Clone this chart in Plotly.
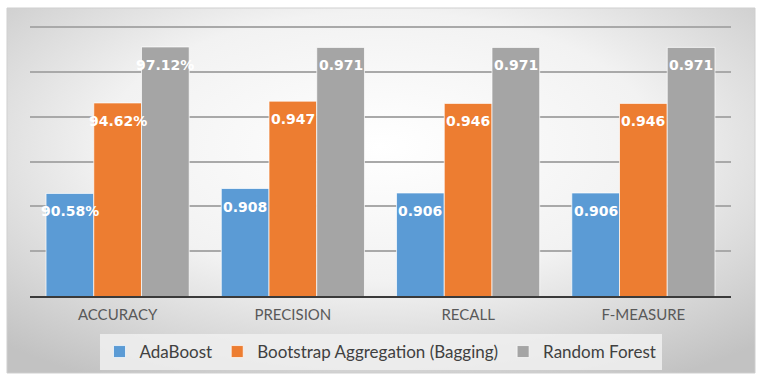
import base64
import plotly.graph_objects as go

# ---- data ----
categories = ["ACCURACY", "PRECISION", "RECALL", "F-MEASURE"]
series_names = ["AdaBoost", "Bootstrap Aggregation (Bagging)", "Random Forest"]
adaboost = [0.9058, 0.908, 0.906, 0.906]
bagging = [0.9462, 0.947, 0.946, 0.946]
random_forest = [0.9712, 0.971, 0.971, 0.971]
adaboost_labels = ["90.58%", "0.908", "0.906", "0.906"]
bagging_labels = ["94.62%", "0.947", "0.946", "0.946"]
rf_labels = ["97.12%", "0.971", "0.971", "0.971"]
y_range = [0.86, 0.981]
y_tick_step = 0.02

# ---- style ----
W, H = 765, 386
ML, MR, MT, MB = 30, 34, 25, 90
colors = ["#5b9bd5", "#ed7d31", "#a5a5a5"]
BARGAP = 0.183
LABEL_FONT = dict(family="DejaVu Sans", size=14, color="white", weight="bold")

pw = W - ML - MR
ph = H - MT - MB

def px_to_paper_x(px):
    return (px - ML) / pw

def px_to_paper_y(py):
    return (H - MB - py) / ph

# frame box in pixels
bx0, by0, bx1, by1 = 7, 8, 755, 373

svg = (
    "<svg xmlns='http://www.w3.org/2000/svg' width='748' height='365' "
    "preserveAspectRatio='none' viewBox='0 0 748 365'>"
    "<defs><radialGradient id='g' cx='50%' cy='38%' r='74%'>"
    "<stop offset='0' stop-color='#ffffff'/>"
    "<stop offset='0.5' stop-color='#f2f2f2'/>"
    "<stop offset='1' stop-color='#c2c2c2'/>"
    "</radialGradient></defs>"
    "<rect x='0' y='0' width='748' height='365' fill='url(#g)'/></svg>"
)
svg_uri = "data:image/svg+xml;base64," + base64.b64encode(svg.encode()).decode()

fig = go.Figure()
all_vals = [adaboost, bagging, random_forest]
all_labels = [adaboost_labels, bagging_labels, rf_labels]
for name, vals, col in zip(series_names, all_vals, colors):
    fig.add_trace(go.Bar(
        x=categories, y=vals, name=name,
        marker=dict(color=col, line=dict(color="rgba(255,255,255,0.7)", width=1)),
        hoverinfo="skip",
    ))

# data labels, placed via the category axis (index + group offset)
bar_w = (1 - BARGAP) / len(series_names)
for j, (vals, labs) in enumerate(zip(all_vals, all_labels)):
    for i, (v, t) in enumerate(zip(vals, labs)):
        fig.add_annotation(
            x=i + (j - (len(series_names) - 1) / 2) * bar_w, y=v,
            xref="x", yref="y", text=t, showarrow=False,
            font=LABEL_FONT, yanchor="middle", yshift=-18,
        )

fig.add_layout_image(dict(
    source=svg_uri, xref="paper", yref="paper",
    x=px_to_paper_x(bx0), y=px_to_paper_y(by0),
    sizex=px_to_paper_x(bx1) - px_to_paper_x(bx0),
    sizey=px_to_paper_y(by0) - px_to_paper_y(by1),
    xanchor="left", yanchor="top", sizing="stretch", layer="below",
))
fig.add_shape(type="rect", xref="paper", yref="paper",
              x0=px_to_paper_x(bx0), x1=px_to_paper_x(bx1),
              y0=px_to_paper_y(by1), y1=px_to_paper_y(by0),
              line=dict(color="#cfcfcf", width=1), layer="below")

fig.update_layout(
    width=W, height=H,
    margin=dict(l=ML, r=MR, t=MT, b=MB, pad=0),
    paper_bgcolor="white",
    plot_bgcolor="rgba(0,0,0,0)",
    barmode="group", bargap=BARGAP, bargroupgap=0,
    showlegend=True,
    legend=dict(
        orientation="h", x=0.5, xanchor="center",
        y=px_to_paper_y(334), yanchor="top",
        bgcolor="rgba(240,240,240,0.85)",
        font=dict(family="Lato", size=17, color="#404040"),
        itemclick=False, itemdoubleclick=False,
    ),
    xaxis=dict(
        showgrid=False, showline=True, linecolor="#3a3a3a", linewidth=2,
        ticks="", tickfont=dict(family="Lato", size=15, color="#595959"),
        ticklabelstandoff=4, fixedrange=True,
    ),
    yaxis=dict(
        range=y_range, dtick=y_tick_step, tick0=y_range[0],
        showticklabels=False, showgrid=True, gridcolor="#a9a9a9", gridwidth=1.5,
        zeroline=False, showline=False, fixedrange=True,
    ),
)

fig.write_html("out.html", config={"displayModeBar": False},
               post_script="document.body.style.margin='0';")
